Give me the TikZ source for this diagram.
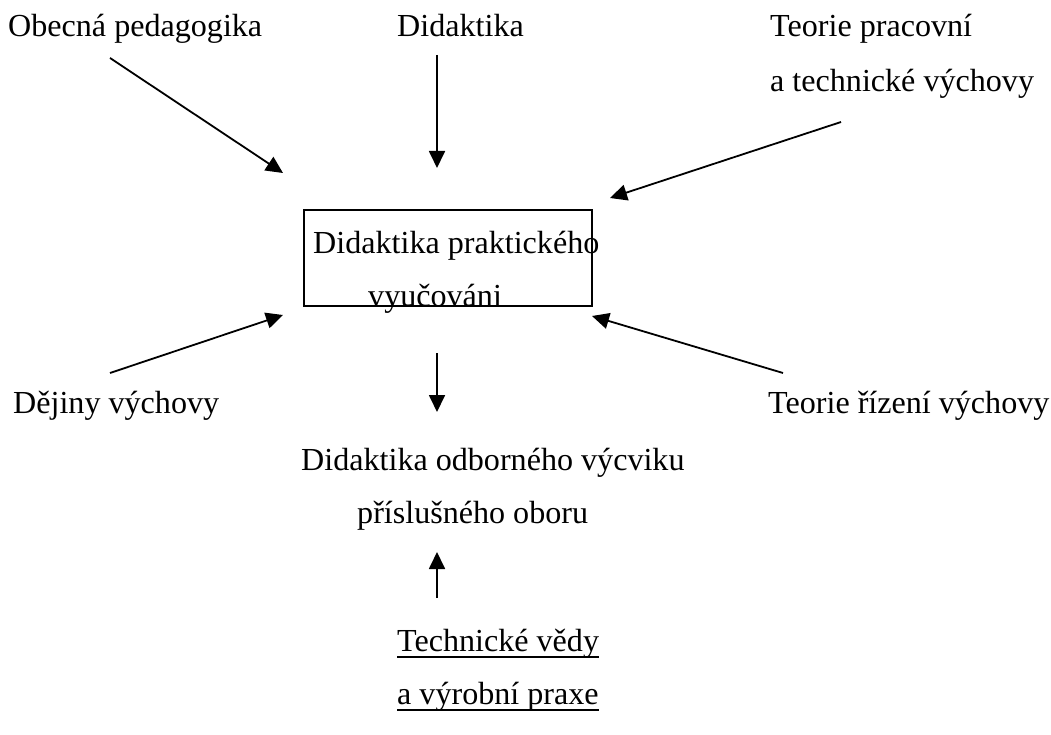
\documentclass[tikz,border=0pt]{standalone}
\usepackage{fontspec}
\setmainfont{Liberation Serif}
\usetikzlibrary{arrows.meta}
\tikzset{
  lbl/.style={anchor=base west, inner sep=0pt, font=\fontsize{32.1}{38}\selectfont},
  arr/.style={line width=1.8pt, -{Triangle[length=17pt,width=16pt]}},
  ul/.style={line width=1.6pt}
}
\begin{document}
\begin{tikzpicture}[x=1pt,y=-1pt]
\useasboundingbox (0,0) rectangle (1051,735);
% texts
\node[lbl] (obec) at (8,37) {Obecná pedagogika};
\node[lbl] (did) at (397,37) {Didaktika};
\node[lbl] (tp1) at (770,37) {Teorie pracovní};
\node[lbl] (tp2) at (770,92) {a technické výchovy};
\node[draw, line width=1.8pt, anchor=north west, minimum width=288pt, minimum height=96pt, inner sep=0pt] (box) at (303,209) {};
\node[lbl] (dp1) at (313,254) {Didaktika praktického};
\node[lbl] (dp2) at (368,306) {vyučováni};
\node[lbl] (dej) at (13,413) {Dějiny výchovy};
\node[lbl] (tr) at (768,413) {Teorie řízení výchovy};
\node[lbl] (do1) at (301,470) {Didaktika odborného výcviku};
\node[lbl] (do2) at (357,523) {příslušného oboru};
\node[lbl] (tv1) at (397,651) {Technické vědy};
\node[lbl] (tv2) at (397,704) {a výrobní praxe};
\draw[ul] ([yshift=-6pt]tv1.base west) -- ([yshift=-6pt]tv1.base east);
\draw[ul] ([yshift=-6pt]tv2.base west) -- ([yshift=-6pt]tv2.base east);
% arrow end points
\coordinate (a1s) at (110,58);  \coordinate (a1e) at (283,173);
\coordinate (a2s) at (437,55);  \coordinate (a2e) at (437,168);
\coordinate (a3s) at (841,122); \coordinate (a3e) at (610,198);
\coordinate (a4s) at (110,373); \coordinate (a4e) at (283,315);
\coordinate (a5s) at (783,373); \coordinate (a5e) at (592,316);
\coordinate (a6s) at (437,353); \coordinate (a6e) at (437,412);
\coordinate (a7s) at (437,598); \coordinate (a7e) at (437,552);
\draw[arr] (a1s) -- (a1e);
\draw[arr] (a2s) -- (a2e);
\draw[arr] (a3s) -- (a3e);
\draw[arr] (a4s) -- (a4e);
\draw[arr] (a5s) -- (a5e);
\draw[arr] (a6s) -- (a6e);
\draw[arr] (a7s) -- (a7e);
\end{tikzpicture}
\end{document}
